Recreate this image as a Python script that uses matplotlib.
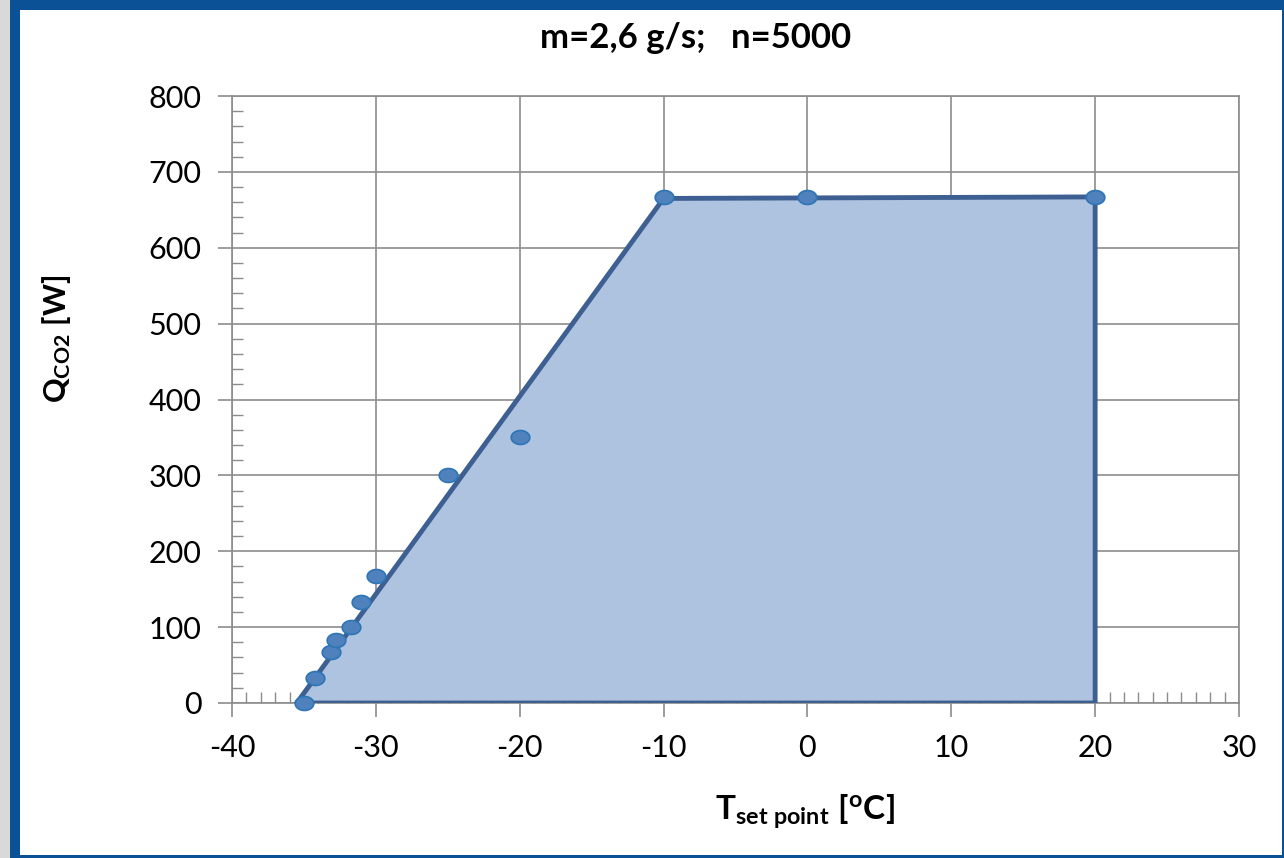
import numpy as np
import matplotlib
matplotlib.use("Agg")
import matplotlib.pyplot as plt
from matplotlib.path import Path
from matplotlib.patches import Rectangle, Polygon
from matplotlib.ticker import MultipleLocator

plt.rcParams['font.family'] = ['Lato', 'DejaVu Sans']
plt.rcParams['axes.unicode_minus'] = False
plt.rcParams['mathtext.fontset'] = 'custom'
plt.rcParams['mathtext.rm'] = 'Lato:bold'
plt.rcParams['mathtext.it'] = 'Lato:bold'
plt.rcParams['mathtext.bf'] = 'Lato:bold'

# measured points
t_set = [-35, -34.2, -33.1, -32.8, -31.7, -31.0, -30, -25, -20, -10, 0, 20]
q_co2 = [0, 33, 67, 83, 100, 133, 167, 300, 350, 667, 667, 667]

# operating envelope
env_t = [-35.5, -10, 20, 20]
env_q = [0, 665, 667, 0]

fig = plt.figure(figsize=(12.84, 8.58), dpi=100)

# frame around the chart
fig.patches.append(Rectangle((0, 0), 1, 1, transform=fig.transFigure,
                             facecolor='#D9D9D9', edgecolor='none', zorder=-3))
fig.patches.append(Rectangle((10/1284, 0), 1 - 10/1284, 1, transform=fig.transFigure,
                             facecolor='#0B5196', edgecolor='none', zorder=-2))
fig.patches.append(Rectangle((20/1284, 3/858), 1 - 22/1284, 1 - 13/858,
                             transform=fig.transFigure,
                             facecolor='white', edgecolor='none', zorder=-1))

ax = fig.add_axes([232/1284, 1 - 703/858, (1239 - 232)/1284, (703 - 96)/858])
ax.set_facecolor('none')

ax.add_patch(Polygon(list(zip(env_t, env_q)), closed=True, facecolor='#AEC3E0',
                     edgecolor='#3D5F91', linewidth=3.5, joinstyle='miter', zorder=3))

theta = np.linspace(0, 2 * np.pi, 40)
ellipse = Path(np.column_stack([np.cos(theta), 0.75 * np.sin(theta)]), closed=True)
ax.scatter(t_set, q_co2, marker=ellipse, s=180, facecolor='#4F81BD',
           edgecolor='#2E75B6', linewidth=1.2, zorder=4, clip_on=False)

ax.set_xlim(-40, 30)
ax.set_ylim(0, 800)
ax.xaxis.set_major_locator(MultipleLocator(10))
ax.yaxis.set_major_locator(MultipleLocator(100))
ax.xaxis.set_minor_locator(MultipleLocator(1))
ax.yaxis.set_minor_locator(MultipleLocator(20))
ax.grid(True, which='major', color='#8C8C8C', linewidth=1.2, zorder=0)
ax.set_axisbelow(True)

for s in ax.spines.values():
    s.set_color('#8C8C8C')
    s.set_linewidth(1.2)

ax.tick_params(which='major', direction='out', length=10, width=1.2, color='#8C8C8C',
               labelsize=22, pad=12)
ax.tick_params(which='minor', direction='in', length=8, width=1.0, color='#8C8C8C')

fig.text(696/1284, 1 - 38/858, 'm=2,6 g/s;   n=5000', fontsize=25, fontweight='bold',
         ha='center', va='center')
ax.set_xlabel(r'$\mathrm{T}_{\mathrm{set\ point}}\ \mathrm{[^{o}C]}$', fontsize=24)
ax.set_ylabel(r'$\mathrm{Q}_{\mathrm{CO2}}\ \mathrm{[W]}$', fontsize=22)
ax.xaxis.set_label_coords(0.569, -0.148)
ax.yaxis.set_label_coords(-0.158, 0.6)

fig.savefig('out.png', dpi=100)
